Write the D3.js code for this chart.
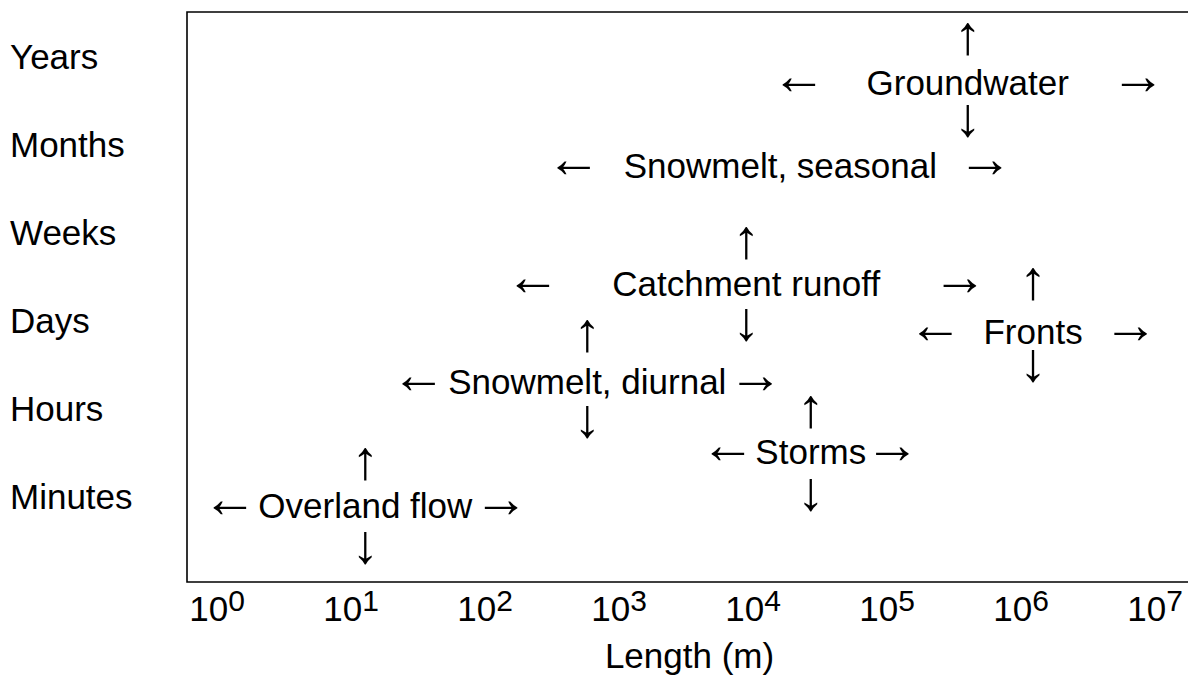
<!DOCTYPE html>
<html>
<head>
<meta charset="utf-8">
<script src="https://cdn.jsdelivr.net/npm/d3@7"></script>
<style>
  html, body { margin: 0; padding: 0; background: #fff; }
  svg { display: block; }
  text { font-family: "Liberation Sans", Arial, Helvetica, sans-serif; fill: #000; }
</style>
</head>
<body>
<svg id="chart" width="1188" height="678"></svg>
<script>
// ---- data ----
const timeLabels = ["Minutes", "Hours", "Days", "Weeks", "Months", "Years"];
const lengthExponents = [0, 1, 2, 3, 4, 5, 6, 7];
const xAxisTitle = "Length (m)";

const processNames = ["Groundwater", "Snowmelt, seasonal", "Catchment runoff", "Fronts",
                      "Snowmelt, diurnal", "Storms", "Overland flow"];
// characteristic length (m) and time (0 = minutes ... 5 = years)
const lengthMid   = [4.0e5, 1.6e4, 8.9e3, 1.23e6, 580, 2.7e4, 12.8];
const timeMid     = [4.70, 3.76, 2.42, 1.87, 1.30, 0.51, -0.11];
// arrow positions: extent of each process
const lengthLeft  = [2.2e4, 460, 228, 2.3e5, 32, 6.5e3, 1.25];
const lengthRight = [7.5e6, 5.4e5, 3.5e5, 6.6e6, 1.05e4, 1.1e5, 132];
const timeUp      = [5.15, null, 2.84, 2.375, 1.78, 0.91, 0.32];
const timeDown    = [4.22, null, 1.90, 1.44, 0.80, -0.03, -0.625];

// ---- layout ----
const svg = d3.select("#chart");
const frame = { left: 187, right: 1192, top: 12, bottom: 582 };
const fs = 35;
const afs = 55;

const x = d3.scaleLog().domain([1, 1e7]).range([217, 1155]);
const y = d3.scaleLinear().domain([0, 5]).range([496, 56]);

// frame (left, top, bottom)
svg.append("path")
  .attr("d", `M${frame.right},${frame.top}H${frame.left}V${frame.bottom}H${frame.right}`)
  .attr("fill", "none").attr("stroke", "#000").attr("stroke-width", 1.6);

// y labels
svg.append("g").selectAll("text").data(timeLabels).join("text")
  .attr("x", 10)
  .attr("y", (d, i) => y(i) + 0.358 * fs)
  .attr("font-size", fs)
  .text(d => d);

// x tick labels
const xt = svg.append("g").selectAll("text").data(lengthExponents).join("text")
  .attr("x", d => x(Math.pow(10, d)))
  .attr("y", 621)
  .attr("text-anchor", "middle")
  .attr("font-size", fs);
xt.append("tspan").text("10");
xt.append("tspan").attr("font-size", 30).attr("dy", -10).text(d => d);

// x axis title
svg.append("text")
  .attr("x", (frame.left + frame.right) / 2)
  .attr("y", 668)
  .attr("text-anchor", "middle")
  .attr("font-size", fs)
  .text(xAxisTitle);

// process labels
const procs = processNames.map((name, i) => ({
  name, len: lengthMid[i], t: timeMid[i],
  lo: lengthLeft[i], hi: lengthRight[i], up: timeUp[i], dn: timeDown[i]
}));

const g = svg.append("g");
const base = 0.358 * fs; // cap-centre to baseline

g.selectAll("text.name").data(procs).join("text")
  .attr("class", "name")
  .attr("x", d => x(d.len)).attr("y", d => y(d.t) + base)
  .attr("text-anchor", "middle").attr("font-size", fs)
  .text(d => d.name);

const arrowOff = 0.21 * afs;
g.selectAll("text.la").data(procs).join("text")
  .attr("class", "la")
  .attr("x", d => x(d.lo)).attr("y", d => y(d.t) + arrowOff)
  .attr("text-anchor", "middle").attr("font-size", afs)
  .text("\u2190");
g.selectAll("text.ra").data(procs).join("text")
  .attr("class", "ra")
  .attr("x", d => x(d.hi)).attr("y", d => y(d.t) + arrowOff)
  .attr("text-anchor", "middle").attr("font-size", afs)
  .text("\u2192");
g.selectAll("text.ua").data(procs.filter(d => d.up != null)).join("text")
  .attr("class", "ua")
  .attr("x", d => x(d.len)).attr("y", d => y(d.up) + arrowOff)
  .attr("text-anchor", "middle").attr("font-size", afs)
  .text("\u2191");
g.selectAll("text.da").data(procs.filter(d => d.dn != null)).join("text")
  .attr("class", "da")
  .attr("x", d => x(d.len)).attr("y", d => y(d.dn) + arrowOff)
  .attr("text-anchor", "middle").attr("font-size", afs)
  .text("\u2193");
</script>
</body>
</html>
